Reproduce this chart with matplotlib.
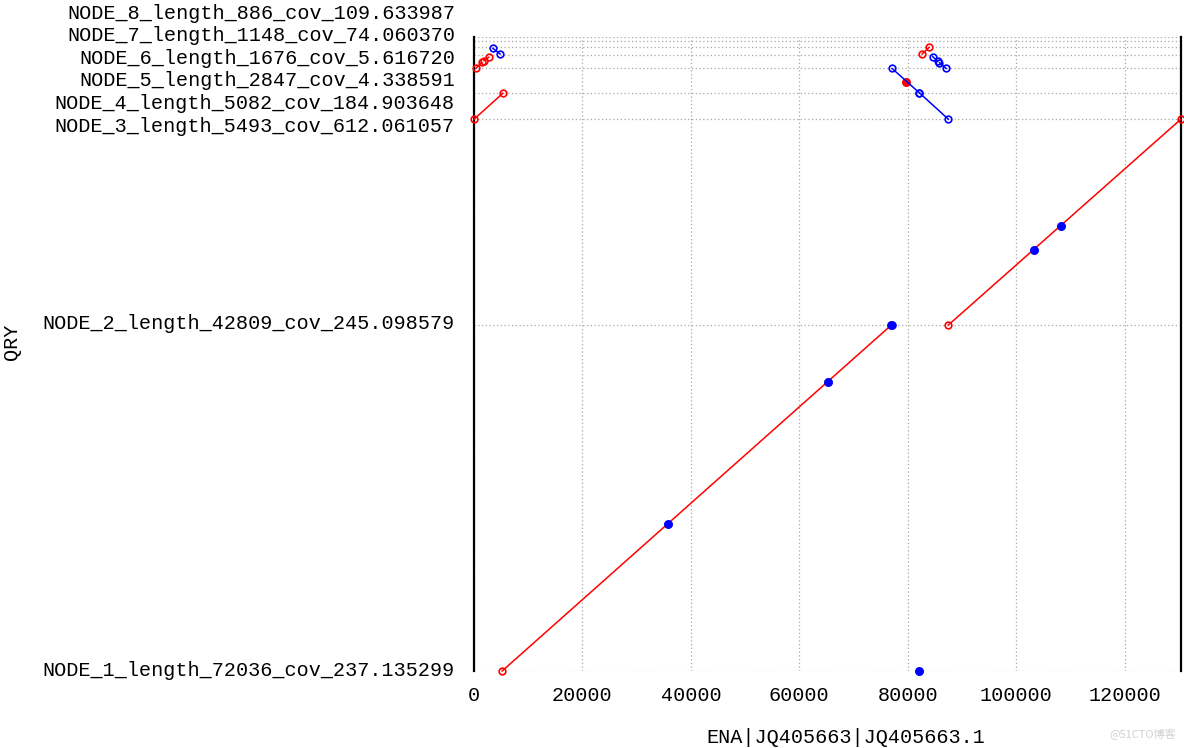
import numpy as np
import matplotlib
matplotlib.use("Agg")
import matplotlib.pyplot as plt
from matplotlib.transforms import ScaledTranslation

# ---------------- data ----------------
contig_names = [
    "NODE_1_length_72036_cov_237.135299",
    "NODE_2_length_42809_cov_245.098579",
    "NODE_3_length_5493_cov_612.061057",
    "NODE_4_length_5082_cov_184.903648",
    "NODE_5_length_2847_cov_4.338591",
    "NODE_6_length_1676_cov_5.616720",
    "NODE_7_length_1148_cov_74.060370",
    "NODE_8_length_886_cov_109.633987",
]
contig_lengths = [72036, 42809, 5493, 5082, 2847, 1676, 1148, 886]
ref_name = "ENA|JQ405663|JQ405663.1"
ref_length = 130400
x_ticks = [0, 20000, 40000, 60000, 80000, 100000, 120000]

# alignments: reference start/end, query contig index, query start/end (local coords)
m_ref_start = [5190, 87510, 1, 330, 1860, 82660, 79700,
               77120, 82160, 84610, 85850, 3470,
               35830, 65350, 76990, 82090, 103200, 108190]
m_ref_end = [77000, 130360, 5330, 1440, 2730, 83950, 79730,
             82160, 87510, 85530, 87090, 4820,
             35860, 65380, 77020, 82120, 103230, 108220]
m_qry_contig = [0, 1, 2, 4, 4, 5, 3,
                3, 2, 4, 4, 5,
                0, 0, 0, 0, 1, 1]
m_qry_start = [1, 1, 1, 1, 1650, 170, 2330,
               5082, 5493, 2460, 1210, 1363,
               30630, 60190, 72036, 30, 15630, 20630]
m_qry_end = [72036, 42809, 5440, 1310, 2350, 1570, 2360,
             1, 1, 1560, 1, 173,
             30600, 60160, 72006, 1, 15600, 20600]

# ---------------- figure ----------------
W, H, DPI = 1184, 748, 100
fig = plt.figure(figsize=(W / DPI, H / DPI), dpi=DPI)
L, R, T, B = 474, 1181, 37, 671
ax = fig.add_axes([L / W, 1 - B / H, (R - L) / W, (B - T) / H])

FONT = "Liberation Mono"
FS = 14.5

offsets = np.concatenate([[0], np.cumsum(contig_lengths)])
total_q = offsets[-1]

ax.set_xlim(0, ref_length)
ax.set_ylim(0, total_q)

red, blue = "#ff0000", "#0000ff"
# forward first, then reverse on top
order = sorted(range(len(m_ref_start)),
               key=lambda i: (m_qry_start[i] > m_qry_end[i]))
for i in order:
    off = offsets[m_qry_contig[i]]
    xs = [m_ref_start[i], m_ref_end[i]]
    ys = [off + m_qry_start[i], off + m_qry_end[i]]
    fwd = m_qry_start[i] <= m_qry_end[i]
    col = red if fwd else blue
    short = abs(m_ref_end[i] - m_ref_start[i]) < 100
    ax.plot(xs, ys, color=col, lw=1.1, marker="o", ms=5 if short else 4.8,
            mfc=col if short else "none", mec=col, mew=1.2,
            zorder=3 if fwd else 4, clip_on=False)

# grid
ax.set_xticks(x_ticks)
ax.set_xticklabels([str(v) for v in x_ticks], fontfamily=FONT, fontsize=FS)
ax.set_yticks(list(offsets))
ax.set_yticklabels([])
ax.tick_params(axis="both", length=0)
ax.tick_params(axis="x", pad=11)
ax.grid(True, color="#a8a8a8", linestyle=(0, (1, 2)), linewidth=0.9)
ax.set_axisbelow(True)

for s in ["top", "bottom"]:
    ax.spines[s].set_visible(False)
for s in ["left", "right"]:
    ax.spines[s].set_linewidth(1.6)
    ax.spines[s].set_color("black")
    ax.spines[s].set_zorder(2)


# y labels, spread apart where crowded
def spread(targets, gap):
    groups = [[t] for t in targets]
    changed = True
    while changed:
        changed = False
        for k in range(len(groups) - 1):
            a, b = groups[k], groups[k + 1]
            top_a = np.mean(a) + (len(a) - 1) * gap / 2
            bot_b = np.mean(b) - (len(b) - 1) * gap / 2
            if bot_b - top_a < gap:
                groups[k] = a + b
                del groups[k + 1]
                changed = True
                break
    pos = []
    for g in groups:
        c, n = np.mean(g), len(g)
        pos += [c + (k - (n - 1) / 2) * gap for k in range(n)]
    return pos


gap_data = 22.6 / (B - T) * total_q
label_pos = spread(list(offsets[:-1]), gap_data)
trans = ax.get_yaxis_transform() + ScaledTranslation(-19 / DPI, 1 / DPI, fig.dpi_scale_trans)
for name, yp in zip(contig_names, label_pos):
    ax.text(0, yp, name, transform=trans, ha="right", va="center",
            fontfamily=FONT, fontsize=FS, color="black")

ax.set_xlabel(ref_name, fontfamily=FONT, fontsize=FS)
ax.xaxis.set_label_coords((846 - L) / (R - L), (B - 728) / (B - T))
ax.set_ylabel("QRY", fontfamily=FONT, fontsize=FS, va="center", ha="center")
ax.yaxis.set_label_coords((11 - L) / (R - L), (B - 342) / (B - T))

fig.text(1176 / W, 1 - 734 / H, "@51CTO博客", ha="right", va="center",
         fontfamily=["Noto Sans CJK SC", "DejaVu Sans"], fontsize=8, color="#d0d0d0")

fig.savefig("out.png", dpi=DPI)
